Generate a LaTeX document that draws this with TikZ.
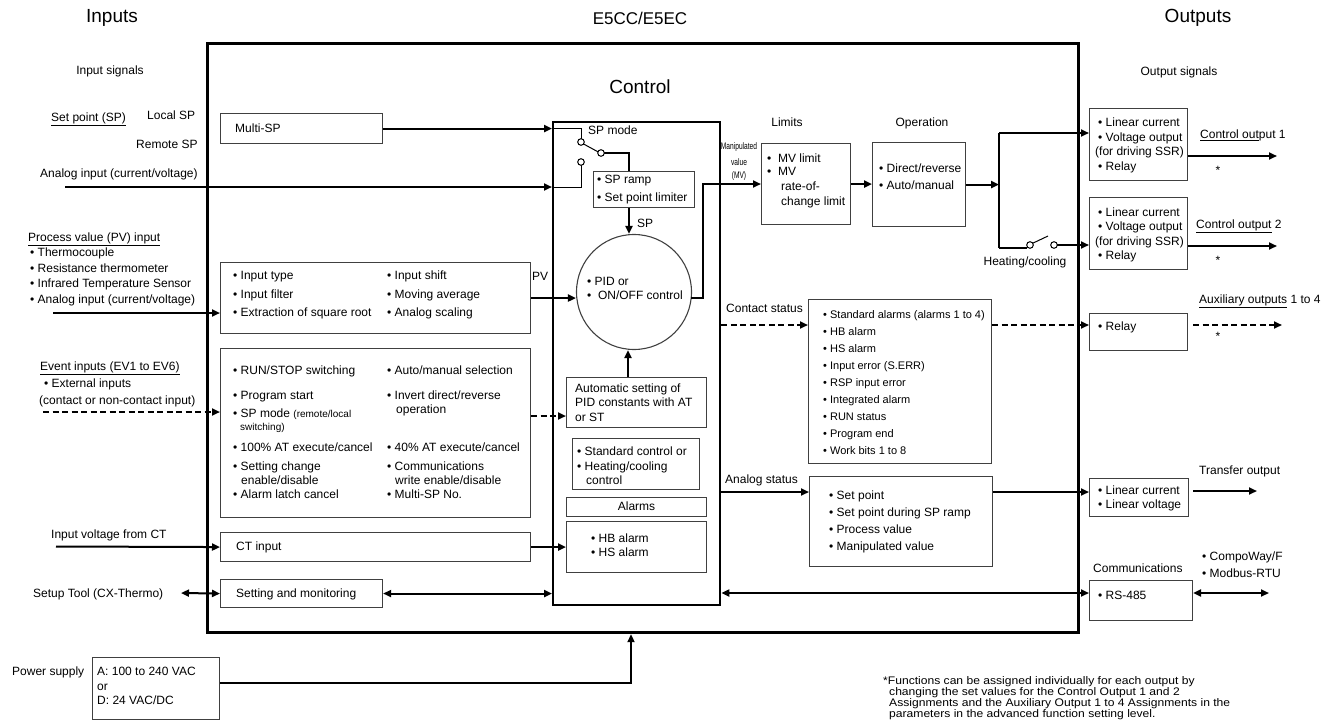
\documentclass[tikz,border=0pt]{standalone}
\usepackage{fontspec}
\setmainfont{Liberation Sans}
\usetikzlibrary{arrows.meta,calc}
\definecolor{bord}{gray}{0.25}
\begin{document}
\begin{tikzpicture}[x=1pt,y=-1pt,
 bx/.style={draw=bord, line width=1.1pt, inner sep=0pt, anchor=north west},
 ar/.style={line width=2pt, -{Triangle[length=8pt,width=7pt]}},
 dar/.style={ar, dash pattern=on 6pt off 3.5pt},
 dbl/.style={line width=2pt, {Triangle[length=8pt,width=7pt]}-{Triangle[length=8pt,width=7pt]}},
 ln/.style={line width=2pt},
 lnthin/.style={line width=1pt},
 tx/.style={font=\fontsize{12}{14}\selectfont, inner sep=0pt, anchor=west, text height=8.5pt, text depth=2pt},
 txc/.style={tx, anchor=center},
 tsm/.style={tx, font=\fontsize{11}{13}\selectfont},
 tmv/.style={font=\fontsize{9.5}{10}\selectfont, inner sep=0pt, anchor=center},
 ttl/.style={font=\fontsize{19}{22}\selectfont, inner sep=0pt, anchor=center},
 fnt/.style={font=\fontsize{11}{12}\selectfont, inner sep=0pt, anchor=base west},
 ]
\useasboundingbox (0,0) rectangle (1331,720);

% ---------- boxes ----------
\node[bx, draw=black, line width=3.2pt, minimum width=871pt, minimum height=589pt] (main) at (206,42) {};
\node[bx, draw=black, line width=2.4pt, minimum width=167pt, minimum height=483pt] (inner) at (552,121) {};
\node[bx, minimum width=162pt, minimum height=30pt] (multisp) at (220,113) {};
\node[bx, minimum width=310pt, minimum height=71pt] (inbox) at (220,262) {};
\node[bx, minimum width=310pt, minimum height=169pt] (evbox) at (220,348) {};
\node[bx, minimum width=310pt, minimum height=29pt] (ctbox) at (220,532) {};
\node[bx, minimum width=162pt, minimum height=28pt] (setbox) at (220,579) {};
\node[bx, minimum width=101pt, minimum height=36pt] (spramp) at (593,171) {};
\node[bx, minimum width=140pt, minimum height=50pt] (autobox) at (566,377) {};
\node[bx, minimum width=127pt, minimum height=51pt] (stdbox) at (572,438) {};
\node[bx, minimum width=140pt, minimum height=19pt] (almbox) at (566,497) {};
\node[bx, minimum width=140pt, minimum height=51pt] (hbbox) at (566,521) {};
\node[bx, minimum width=89pt, minimum height=81pt] (limits) at (761,143) {};
\node[bx, minimum width=93pt, minimum height=84pt] (oper) at (872,142) {};
\node[bx, minimum width=183pt, minimum height=164pt] (contact) at (808,299) {};
\node[bx, minimum width=183pt, minimum height=90pt] (analog) at (809,476) {};
\node[bx, minimum width=98pt, minimum height=72pt] (out1) at (1089,108) {};
\node[bx, minimum width=98pt, minimum height=72pt] (out2) at (1089,197) {};
\node[bx, minimum width=98pt, minimum height=37pt] (relay) at (1089,313) {};
\node[bx, minimum width=99pt, minimum height=38pt] (transfer) at (1089,478) {};
\node[bx, minimum width=103pt, minimum height=40pt] (rs485) at (1089,580) {};
\node[bx, minimum width=127pt, minimum height=62pt] (power) at (92,657) {};
\node[draw=bord, line width=1.1pt, circle, minimum size=115pt, inner sep=0pt] (pid) at (634,292) {};

% ---------- coordinates ----------
\coordinate (aiS) at (65,187);
\coordinate (c1) at (581,142);
\coordinate (c2) at (581,162);
\coordinate (cc) at (601,153);
\coordinate (spx) at (629,0);
\coordinate (mvA) at (703,298);
\coordinate (mvB) at (703,184);
\coordinate (jn) at (999,184);
\coordinate (jt) at (999,133);
\coordinate (jb) at (999,248);
\coordinate (s1) at (1030,245);
\coordinate (s2) at (1054,245);
\coordinate (s2r) at (1057.3,245);
\coordinate (o1e) at (1277,156);
\coordinate (o2e) at (1277,246);
\coordinate (csy) at (0,325);
\coordinate (auxe) at (1282,325);
\coordinate (asy) at (0,492);
\coordinate (tre) at (1257,491);
\coordinate (cmy) at (0,593);
\coordinate (cme) at (1269,593);
\coordinate (stl) at (181,593);
\coordinate (ctl) at (56,546.5);
\coordinate (evl) at (43,412);
\coordinate (evy) at (0,416);
\coordinate (pvl) at (53,313);
\coordinate (apx) at (628,0);
\coordinate (pwy) at (0,683);
\coordinate (pwx) at (631,0);

% ---------- connectors ----------
\draw[ar] (multisp.east) -- (multisp.east -| inner.west);
\draw[ar] (aiS) -- (aiS -| inner.west);
\draw[lnthin] (multisp.east -| inner.west) -| ($(c1)+(0,-3.3)$);
\draw[lnthin] (aiS -| inner.west) -| ($(c2)+(0,3.3)$);
\draw[lnthin] ($(c1)+(2.6,2)$) -- ($(cc)+(-3.1,-1.2)$);
\draw[lnthin, fill=white] (c1) circle[radius=3.3pt];
\draw[lnthin, fill=white] (c2) circle[radius=3.3pt];
\draw[ln] ($(cc)+(3.3,0)$) -| (spx |- spramp.north);
\draw[lnthin, fill=white] (cc) circle[radius=3.3pt];
\draw[ar] (spx |- spramp.south) -- (spx |- pid.north);
\draw[ar] (inbox.east) -- (inbox.east -| pid.west);
\draw[ar] ($(pid.center)+(57.2,6)$) -- (mvA) -- (mvB) -- (mvB -| limits.west);
\draw[ar] (limits.east) -- (limits.east -| oper.west);
\draw[ar] (oper.east) -- (oper.east -| jn);
\draw[ln] (jt) -- (jb);
\draw[ar] (jt) -- (jt -| out1.west);
\draw[ln] (jb) -- (1027,248);
\draw[lnthin] ($(s1)+(2.8,-1.8)$) -- (1048,236);
\draw[lnthin, fill=white] (s1) circle[radius=3.3pt];
\draw[lnthin, fill=white] (s2) circle[radius=3.3pt];
\draw[ar] (s2r) -- (s2r -| out2.west);
\draw[ar] (out1.east |- o1e) -- (o1e);
\draw[ar] (out2.east |- o2e) -- (o2e);
\draw[dar] (inner.east |- csy) -- (contact.west |- csy);
\draw[dar] (contact.east |- csy) -- (relay.west |- csy);
\draw[dar] ($(relay.east |- csy)+(5,0)$) -- (auxe);
\draw[ar] (inner.east |- asy) -- (analog.west |- asy);
\draw[ar] (analog.east |- asy) -- (transfer.west |- asy);
\draw[ar] ($(transfer.east |- tre)+(4,0)$) -- (tre);
\draw[dbl] (inner.east |- cmy) -- (rs485.west |- cmy);
\draw[dbl] (rs485.east |- cmy) -- (cme);
\draw[dbl] (stl) -- (setbox.west);
\draw[dbl] (setbox.east) -- (setbox.east -| inner.west);
\draw[ar] (ctl) -- (ctbox.west);
\draw[ar] (ctbox.east) -- (hbbox.west);
\draw[dar] (evl) -- (evl -| evbox.west);
\draw[dar] (evbox.east |- evy) -- (autobox.west |- evy);
\draw[ar] (pvl) -- (pvl -| inbox.west);
\draw[ar] (apx |- autobox.north) -- (apx |- pid.south);
\draw[ar] (power.east |- pwy) -- (pwx |- pwy) -- (pwx |- main.south);

% ---------- titles ----------
\node[ttl] (tIn) at (112,18) {Inputs};
\node[ttl, font=\fontsize{17}{20}\selectfont] (tE5) at (640,18) {E5CC/E5EC};
\node[ttl] (tOut) at (1198,18) {Outputs};
\node[ttl] (tCtl) at (640,87) {Control};
\node[txc] (tIS) at (110,71) {Input signals};
\node[txc] (tOS) at (1179,72) {Output signals};

% ---------- left labels ----------
\node[tx] (l1) at (51,118) {\underline{Set point (SP)}};
\node[tx] (l2) at (147,116) {Local SP};
\node[tx] (l3) at (136,145) {Remote SP};
\node[tx] (l4) at (40,174) {Analog input (current/voltage)};
\node[tx] (l5) at (28,238) {\underline{Process value (PV) input}};
\node[tx] (l6) at (30,253) {• Thermocouple};
\node[tx] (l7) at (30,269) {• Resistance thermometer};
\node[tx] (l8) at (30,284) {• Infrared Temperature Sensor};
\node[tx] (l9) at (30,300) {• Analog input (current/voltage)};
\node[tx] (l10) at (40,367) {\underline{Event inputs (EV1 to EV6)}};
\node[tx] (l11) at (44,384) {• External inputs};
\node[tx] (l12) at (39,401) {(contact or non-contact input)};
\node[tx] (l13) at (51,535) {Input voltage from CT};
\node[tx] (l14) at (33,594) {Setup Tool (CX-Thermo)};
\node[tx] (l15) at (12,672) {Power supply};
\node[tx] (p1) at (97,672) {A: 100 to 240 VAC};
\node[tx] (p2) at (97,687) {or};
\node[tx] (p3) at (97,701) {D: 24 VAC/DC};

% ---------- inside left boxes ----------
\node[tx] (m1) at (235,129) {Multi-SP};
\node[tx] (i1) at (233,276) {• Input type};
\node[tx] (i2) at (233,295) {• Input filter};
\node[tx] (i3) at (233,313) {• Extraction of square root};
\node[tx] (i4) at (387,276) {• Input shift};
\node[tx] (i5) at (387,295) {• Moving average};
\node[tx] (i6) at (387,313) {• Analog scaling};
\node[tx] (pvt) at (532,277) {PV};
\node[tx] (e1) at (233,371) {• RUN/STOP switching};
\node[tx] (e2) at (233,396) {• Program start};
\node[tx] (e3) at (233,414) {• SP mode {\fontsize{10}{12}\selectfont (remote/local}};
\node[tx, font=\fontsize{10}{12}\selectfont] (e4) at (240,427) {switching)};
\node[tx] (e5) at (233,448) {• 100\% AT execute/cancel};
\node[tx] (e6) at (233,467) {• Setting change};
\node[tx] (e7) at (241,481) {enable/disable};
\node[tx] (e8) at (233,495) {• Alarm latch cancel};
\node[tx] (f1) at (387,371) {• Auto/manual selection};
\node[tx] (f2) at (387,396) {• Invert direct/reverse};
\node[tx] (f3) at (396,410) {operation};
\node[tx] (f4) at (387,448) {• 40\% AT execute/cancel};
\node[tx] (f5) at (387,467) {• Communications};
\node[tx] (f6) at (395,481) {write enable/disable};
\node[tx] (f7) at (387,495) {• Multi-SP No.};
\node[tx] (ct1) at (236,547) {CT input};
\node[tx] (st1) at (236,594) {Setting and monitoring};

% ---------- control box ----------
\node[tx] (c1t) at (588,131) {SP mode};
\node[tx] (r1) at (597,180) {• SP ramp};
\node[tx] (r2) at (597,198) {• Set point limiter};
\node[tx] (spt) at (637,224) {SP};
\node[tx] (pd1) at (587,282) {• PID or};
\node[tx] (pd2) at (587,296) {•\ \ ON/OFF control};
\node[tx] (a1) at (575,389) {Automatic setting of};
\node[tx] (a2) at (575,403) {PID constants with AT};
\node[tx] (a3) at (575,418) {or ST};
\node[tx] (sc1) at (577,452) {• Standard control or};
\node[tx] (sc2) at (577,467) {• Heating/cooling};
\node[tx] (sc3) at (586,481) {control};
\node[txc] (alt) at (almbox.center) {Alarms};
\node[tx] (hb1) at (591,539) {• HB alarm};
\node[tx] (hb2) at (591,553) {• HS alarm};

% ---------- middle ----------
\node[tmv] (mv1) at (739,147) {\scalebox{0.70}[1]{Manipulated}};
\node[tmv] (mv2) at (739,162) {\scalebox{0.70}[1]{value}};
\node[tmv] (mv3) at (739,176) {\scalebox{0.70}[1]{(MV)}};
\node[txc] (lmt) at (787,123) {Limits};
\node[txc] (opt) at (922,123) {Operation};
\node[tx] (lm1) at (767,159) {•\ \ MV limit};
\node[tx] (lm2) at (767,172) {•\ \ MV};
\node[tx] (lm3) at (781,187) {rate-of-};
\node[tx] (lm4) at (781,202) {change limit};
\node[tx] (op1) at (879,169) {• Direct/reverse};
\node[tx] (op2) at (879,186) {• Auto/manual};
\node[tx] (cst) at (726,309) {Contact status};
\node[tsm] (k1) at (823,315) {• Standard alarms (alarms 1 to 4)};
\node[tsm] (k2) at (823,332) {• HB alarm};
\node[tsm] (k3) at (823,349) {• HS alarm};
\node[tsm] (k4) at (823,366) {• Input error (S.ERR)};
\node[tsm] (k5) at (823,383) {• RSP input error};
\node[tsm] (k6) at (823,400) {• Integrated alarm};
\node[tsm] (k7) at (823,417) {• RUN status};
\node[tsm] (k8) at (823,434) {• Program end};
\node[tsm] (k9) at (823,451) {• Work bits 1 to 8};
\node[tx] (ast) at (725,480) {Analog status};
\node[tx] (g1) at (829,496) {• Set point};
\node[tx] (g2) at (829,513) {• Set point during SP ramp};
\node[tx] (g3) at (829,530) {• Process value};
\node[tx] (g4) at (829,547) {• Manipulated value};

% ---------- right ----------
\node[txc] (hc) at (1025,262) {Heating/cooling};
\node[tx] (q1) at (1098,123) {• Linear current};
\node[tx] (q2) at (1098,138) {• Voltage output};
\node[tx] (q3) at (1095,152) {(for driving SSR)};
\node[tx] (q4) at (1098,167) {• Relay};
\node[tx] (q5) at (1098,213) {• Linear current};
\node[tx] (q6) at (1098,227) {• Voltage output};
\node[tx] (q7) at (1095,242) {(for driving SSR)};
\node[tx] (q8) at (1098,256) {• Relay};
\node[tx] (co1) at (1200,135) {\underline{Control out}put 1};
\node[tx] (co2) at (1196,225) {\underline{Control output} 2};
\node[tx] (ax) at (1199,300) {\underline{Auxiliary outputs} 1 to 4};
\node[txc] (st1a) at (1218,171) {*};
\node[txc] (st2a) at (1218,261) {*};
\node[txc] (st3a) at (1218,337) {*};
\node[tx] (rl) at (1098,327) {• Relay};
\node[tx] (tro) at (1199,471) {Transfer output};
\node[tx] (tr1) at (1098,491) {• Linear current};
\node[tx] (tr2) at (1098,505) {• Linear voltage};
\node[tx] (cmt) at (1093,569) {Communications};
\node[tx] (rs) at (1098,596) {• RS-485};
\node[tx] (cw) at (1202,557) {• CompoWay/F};
\node[tx] (mb) at (1202,574) {• Modbus-RTU};

% ---------- footnote ----------
\node[fnt] (fn1) at (883,684) {\scalebox{1.1}[1]{*Functions can be assigned individually for each output by}};
\node[fnt] (fn2) at (889,695) {\scalebox{1.1}[1]{changing the set values for the Control Output 1 and 2}};
\node[fnt] (fn3) at (889,706) {\scalebox{1.1}[1]{Assignments and the Auxiliary Output 1 to 4 Assignments in the}};
\node[fnt] (fn4) at (889,717) {\scalebox{1.1}[1]{parameters in the advanced function setting level.}};
\end{tikzpicture}
\end{document}
